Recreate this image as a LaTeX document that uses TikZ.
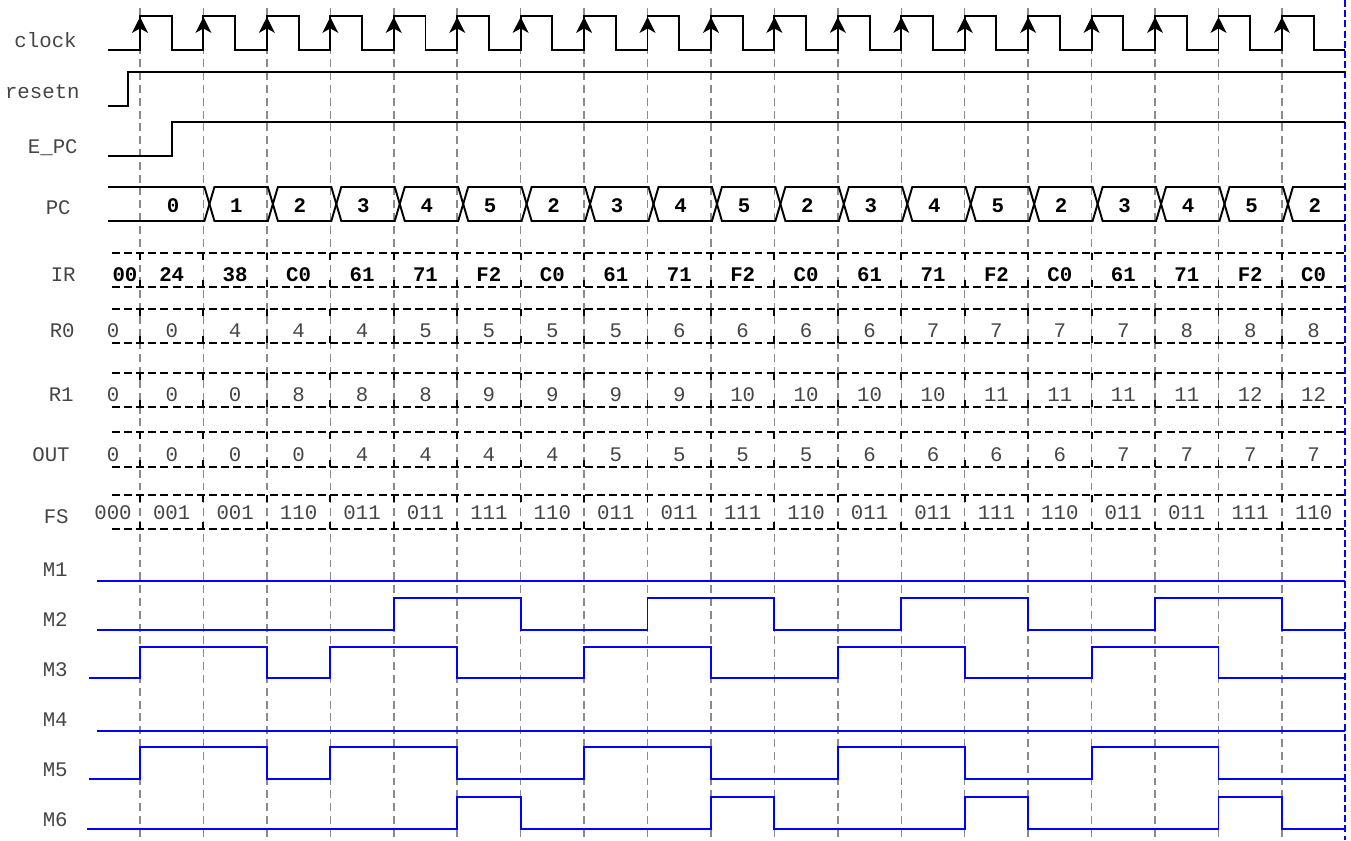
\documentclass[tikz,border=0pt]{standalone}
\usepackage{fontspec}
\setmonofont{Liberation Mono}
\usetikzlibrary{arrows.meta}
\usepackage{xcolor}
\definecolor{tdblue}{HTML}{0000FF}
\definecolor{tdgrid}{HTML}{8A8A8A}
\definecolor{tdtext}{HTML}{454545}
\newcommand{\tdsize}{\fontsize{11.8}{14}\selectfont}

\begin{document}
\begin{tikzpicture}[x=0.02cm, y=-0.02cm, font=\ttfamily\tdsize,
    sig/.style={black, line width=1.1pt},
    msig/.style={tdblue, line width=1.1pt},
    gridline/.style={tdgrid, line width=0.85pt, dash pattern=on 4.5pt off 2.8pt},
    busline/.style={black, line width=1.1pt, dash pattern=on 4.5pt off 2.4pt},
    signame/.style={anchor=base east, text=tdtext, inner sep=0pt},
    val/.style={anchor=base, text=tdtext, inner sep=0pt},
    valbold/.style={anchor=base, text=black, inner sep=0pt, font=\ttfamily\bfseries\tdsize}]
  \useasboundingbox (0,0) rectangle (1351,840);
  % clock edges
  \foreach \k in {0,...,18}
    \draw[gridline] (140+63.44*\k,8) -- (140+63.44*\k,840);
  \draw[tdblue, line width=1.1pt, dash pattern=on 4pt off 1.8pt] (1345,0) -- (1345,840);

  % signal names
  \foreach \n/\x/\y/\t in {clk/77/47/clock, rst/80/98/resetn, epc/78/153/E\_PC, pc/71/214/PC,
                           ir/76/281/IR, r0/75/337/R0, r1/74/401/R1, out/70/461/OUT, fs/69/523/FS,
                           m1/68/576/M1, m2/68/626/M2, m3/68/676/M3, m4/68/726/M4, m5/68/776/M5, m6/68/826/M6}
    \node[signame] (lbl-\n) at (\x,\y) {\t};

  % clock, resetn, E_PC
  \draw[sig] (108,50) foreach \k in {0,...,18} { -| (140+63.44*\k,16) -| (171.72+63.44*\k,50) } -- (1345,50);
  \foreach \k in {0,...,18}
    \draw[sig, -{Stealth[length=9pt, width=9pt, inset=2.5pt]}] (140+63.44*\k,50) -- (140+63.44*\k,17);
  \draw[sig] (108,106) -| (128,72) -- (1345,72);
  \draw[sig] (108,156) -| (172,122) -- (1345,122);

  % PC bus
  \draw[sig] (108,187) -- (204.44,187) -- (209.44,204) -- (204.44,221) -- (108,221);
  \foreach \k [evaluate=\k as \t using 141+63.44*\k] in {1,...,17}
    \draw[sig] (\t+5,204) -- (\t+10,187) -- (\t+63.44,187) -- (\t+68.44,204) -- (\t+63.44,221) -- (\t+10,221) -- cycle;
  \draw[sig] (1345,187) -- (1292.92,187) -- (1287.92,204) -- (1292.92,221) -- (1345,221);
  \foreach \v [count=\k from 0] in {0,1,2,3,4,5,2,3,4,5,2,3,4,5,2,3,4,5,2}
    \node[valbold] (pc\k) at (173+63.44*\k,212) {\v};

  % register rows
  \foreach \yt/\yb in {253/287, 309/343, 373/407, 432/467, 495/529} {
    \draw[busline] (112,\yt) -- (1345,\yt);
    \draw[busline] (112,\yb) -- (1345,\yb);
    \foreach \k in {0,...,18} {
      \draw[black, line width=1.1pt] (140+63.44*\k,\yt) -- ++(0,7);
      \draw[black, line width=1.1pt] (140+63.44*\k,\yb) -- ++(0,-7);
    }
  }
  \node[valbold] (ir-a) at (125,281) {00};
  \foreach \v [count=\k from 0] in {24,38,C0,61,71,F2,C0,61,71,F2,C0,61,71,F2,C0,61,71,F2,C0}
    \node[valbold] (ir\k) at (171.72+63.44*\k,281) {\v};
  \node[val] (r0-a) at (113,337) {0};
  \foreach \v [count=\k from 0] in {0,4,4,4,5,5,5,5,6,6,6,6,7,7,7,7,8,8,8}
    \node[val] (r0\k) at (171.72+63.44*\k,337) {\v};
  \node[val] (r1-a) at (113,401) {0};
  \foreach \v [count=\k from 0] in {0,0,8,8,8,9,9,9,9,10,10,10,10,11,11,11,11,12,12}
    \node[val] (r1\k) at (171.72+63.44*\k,401) {\v};
  \node[val] (out-a) at (113,461) {0};
  \foreach \v [count=\k from 0] in {0,0,0,4,4,4,4,5,5,5,5,6,6,6,6,7,7,7,7}
    \node[val] (out\k) at (171.72+63.44*\k,461) {\v};
  \node[val] (fs-a) at (113,519) {000};
  \foreach \v [count=\k from 0] in {001,001,110,011,011,111,110,011,011,111,110,011,011,111,110,011,011,111,110}
    \node[val] (fs\k) at (171.72+63.44*\k,519) {\v};

  % mux selects
  \draw[msig] (97,581) -- (1345,581);
  \draw[msig] (97,630) foreach \k/\y in {4/598,6/630,8/598,10/630,12/598,14/630,16/598,18/630}
    { -| (140+63.44*\k,\y) } -- (1345,630);
  \draw[msig] (89,678) foreach \k/\y in {0/647,2/678,3/647,5/678,7/647,9/678,11/647,13/678,15/647,17/678}
    { -| (140+63.44*\k,\y) } -- (1345,678);
  \draw[msig] (97,731) -- (1345,731);
  \draw[msig] (89,779) foreach \k/\y in {0/747,2/779,3/747,5/779,7/747,9/779,11/747,13/779,15/747,17/779}
    { -| (140+63.44*\k,\y) } -- (1345,779);
  \draw[msig] (87,829) foreach \k/\y in {5/797,6/829,9/797,10/829,13/797,14/829,17/797,18/829}
    { -| (140+63.44*\k,\y) } -- (1345,829);
\end{tikzpicture}
\end{document}
